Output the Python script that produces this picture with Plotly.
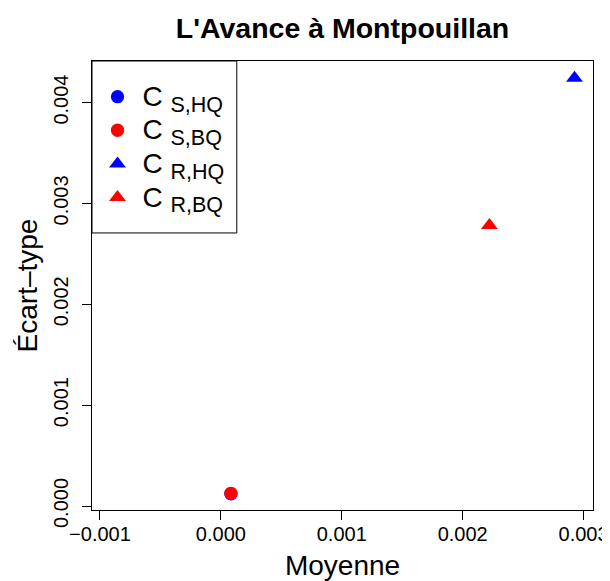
import plotly.graph_objects as go

# Data
series_names = ["S,HQ", "S,BQ", "R,HQ", "R,BQ"]
moyenne = [0.0000828, 0.0000828, 0.002925, 0.002221]
ecart_type = [0.000121, 0.000126, 0.004242, 0.002782]
colors = ["#0000FF", "#FF0000", "#0000FF", "#FF0000"]
symbols = ["circle", "circle", "triangle-up", "triangle-up"]
sizes = [13.3, 13.3, 14.7, 14.7]

x_ticks = [-0.001, 0.0, 0.001, 0.002, 0.003]
y_ticks = [0.0, 0.001, 0.002, 0.003, 0.004]

FONT = "Liberation Sans, Arial, Helvetica, sans-serif"

# the page body adds an 8px margin, so the figure is 8px smaller and margins shifted
W, H = 602, 573

fig = go.Figure()
for i, name in enumerate(series_names):
    label = ('<span style="font-size:18px">&nbsp;</span>'
             '<span style="font-size:28px">C <sub><span style="font-size:21.5px">' + name
             + '</span></sub></span>')
    fig.add_trace(go.Scatter(
        x=[moyenne[i]], y=[ecart_type[i]], mode="markers", name=label,
        legendgroup=f"g{i}",
        marker=dict(color=colors[i], symbol=symbols[i], size=sizes[i], line=dict(width=0)),
    ))

fig.update_layout(
    width=W, height=H,
    margin=dict(l=84, r=17, t=53, b=71, autoexpand=False),
    paper_bgcolor="white", plot_bgcolor="white",
    font=dict(family=FONT, color="black", size=20),
    title=dict(text="<b>L'Avance à Montpouillan</b>", x=0.5, xref="paper", xanchor="center",
               y=1 - 20 / H, yref="container", yanchor="middle",
               font=dict(size=28.5, family=FONT, color="black")),
    showlegend=True,
    legend=dict(x=0.011, y=0.969, xref="paper", yref="paper", xanchor="left", yanchor="top",
                bgcolor="rgba(0,0,0,0)", borderwidth=0, font=dict(size=23.5, family=FONT),
                tracegroupgap=0, itemsizing="trace"),
    shapes=[dict(type="rect", xref="paper", yref="paper", x0=0, x1=0.289, y0=0.617, y1=1,
                 line=dict(color="black", width=1), fillcolor="rgba(0,0,0,0)")],
)

fig.update_xaxes(
    range=[-0.001066, 0.003078], tickvals=x_ticks, tickformat=".3f", automargin=False,
    ticklabelstandoff=-3,
    showgrid=False, zeroline=False, showline=True, mirror=True, linecolor="black", linewidth=1,
    ticks="outside", ticklen=9, tickcolor="black", tickfont=dict(size=20),
    title=dict(text="Moyenne", font=dict(size=28), standoff=11),
)
fig.update_yaxes(
    range=[-0.0000396, 0.004412], tickvals=y_ticks, tickformat=".3f", tickangle=-90,
    automargin=False, ticklabelstandoff=6,
    showgrid=False, zeroline=False, showline=True, mirror=True, linecolor="black", linewidth=1,
    ticks="outside", ticklen=9, tickcolor="black", tickfont=dict(size=20),
    title=dict(text="Écart–type", font=dict(size=28), standoff=4),
)

fig.write_html("out.html")
